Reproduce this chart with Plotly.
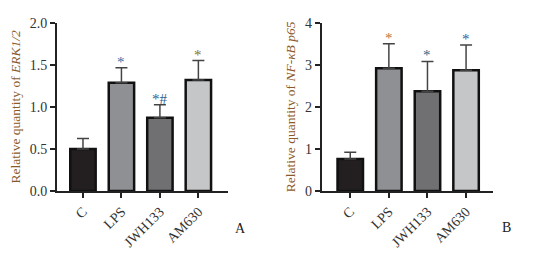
import plotly.graph_objects as go

categories = ["C", "LPS", "JWH133", "AM630"]
bar_colors = ["#231f20", "#8f9094", "#707073", "#c5c6c8"]

erk_means = [0.50, 1.286, 0.87, 1.32]
erk_errs = [0.125, 0.18, 0.155, 0.23]
erk_marks = ["", "*", "*#", "*"]
erk_mark_colors = ["#000", "#3b6fa8", "#2f5f8f", "#8a7420"]

nfkb_means = [0.76, 2.92, 2.37, 2.87]
nfkb_errs = [0.16, 0.58, 0.71, 0.60]
nfkb_marks = ["", "*", "*", "*"]
nfkb_mark_colors = ["#000", "#c0743a", "#2f6a8a", "#3a5a9a"]

erk_ticks = [0, 0.5, 1.0, 1.5, 2.0]
erk_ticktext = ["0.0", "0.5", "1.0", "1.5", "2.0"]
nfkb_ticks = [0, 1, 2, 3, 4]

FONT = "Liberation Serif, Times New Roman, serif"
W, H = 547, 255

fig = go.Figure()

for i, (means, errs, xa, ya) in enumerate([(erk_means, erk_errs, "x", "y"),
                                            (nfkb_means, nfkb_errs, "x2", "y2")]):
    fig.add_trace(go.Bar(
        x=categories, y=means, xaxis=xa, yaxis=ya,
        width=0.66,
        marker=dict(color=bar_colors, line=dict(color="#111", width=2.5)),
        error_y=dict(type="data", array=errs, arrayminus=[0]*4, symmetric=False,
                     color="#444", thickness=1.5, width=6),
        showlegend=False, hoverinfo="skip",
    ))

annotations = []
for marks, cols, means, errs, xa, ya in [
        (erk_marks, erk_mark_colors, erk_means, erk_errs, "x", "y"),
        (nfkb_marks, nfkb_mark_colors, nfkb_means, nfkb_errs, "x2", "y2")]:
    for c, m, col, v, e in zip(categories, marks, cols, means, errs):
        if m:
            annotations.append(dict(x=c, y=v + e, xref=xa, yref=ya, text=m,
                                    showarrow=False, yanchor="bottom", yshift=-4,
                                    font=dict(family=FONT, size=15, color=col)))

annotations.append(dict(x=240 / W, y=1 - 228 / H, xref="paper", yref="paper", text="A",
                        showarrow=False, xanchor="center", yanchor="middle",
                        font=dict(family=FONT, size=14, color="#222")))
annotations.append(dict(x=506 / W, y=1 - 227 / H, xref="paper", yref="paper", text="B",
                        showarrow=False, xanchor="center", yanchor="middle",
                        font=dict(family=FONT, size=14, color="#222")))

ydom = [1 - 191 / H, 1 - 22.7 / H]
xcommon = dict(type="category", showline=True, linecolor="#222", linewidth=2,
               ticks="outside", ticklen=5, tickwidth=2, tickcolor="#222",
               tickangle=-45, showgrid=False, zeroline=False, automargin=False,
               tickfont=dict(family=FONT, size=14, color="#333"))
ycommon = dict(showline=True, linecolor="#222", linewidth=2,
               ticks="outside", ticklen=5, tickwidth=2, tickcolor="#222",
               showgrid=False, zeroline=False, automargin=False,
               tickfont=dict(family=FONT, size=14, color="#333"))

fig.update_layout(
    width=W, height=H,
    margin=dict(l=0, r=0, t=0, b=0, autoexpand=False),
    paper_bgcolor="white", plot_bgcolor="white",
    bargap=0.34,
    xaxis=dict(domain=[57 / W, 228 / W], range=[-0.675, 3.77], anchor="y", **xcommon),
    yaxis=dict(domain=ydom, range=[0, 2.0], anchor="x",
               tickvals=erk_ticks, ticktext=erk_ticktext,
               title=dict(text="Relative quantity of <i>ERK1/2</i>", standoff=6,
                          font=dict(family=FONT, size=13.5, color="#8b5a2b")),
               **ycommon),
    xaxis2=dict(domain=[321.7 / W, 492.7 / W], range=[-0.74, 3.69], anchor="y2", **xcommon),
    yaxis2=dict(domain=ydom, range=[0, 4], anchor="x2",
                tickvals=nfkb_ticks,
                title=dict(text="Relative quantity of <i>NF-κB p65</i>", standoff=6,
                           font=dict(family=FONT, size=13.5, color="#8b5a2b")),
                **ycommon),
    annotations=annotations,
)

fig.write_html("out.html",
               config={"displayModeBar": False},
               post_script="document.body.style.margin='0';document.body.style.overflow='hidden';")
